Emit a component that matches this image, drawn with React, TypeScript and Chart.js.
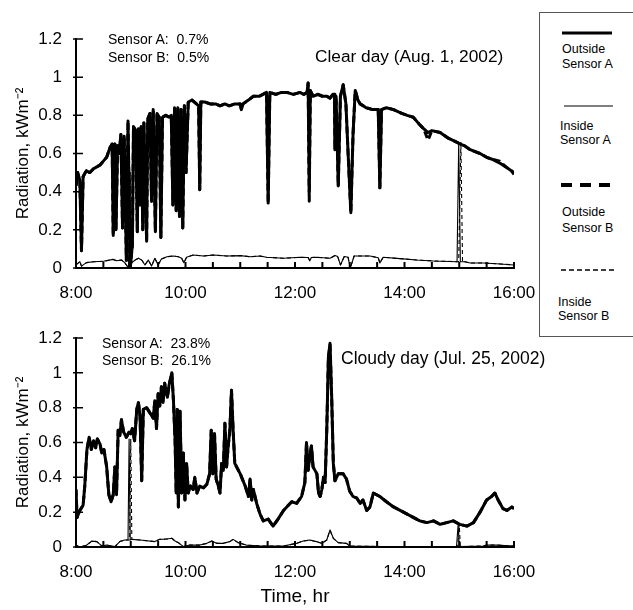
import React, { useEffect, useRef } from "react";
import { Chart, registerables } from "chart.js";
Chart.register(...registerables);

type Pair = [number, number];

// ---------- axis ticks / labels ----------
const xTickHours = [8, 10, 12, 14, 16];
const xTickLabels = ["8:00", "10:00", "12:00", "14:00", "16:00"];
const xMinorHours = [8, 8.5, 9, 9.5, 10, 10.5, 11, 11.5, 12, 12.5, 13, 13.5, 14, 14.5, 15, 15.5, 16];
const yTickValues = [0, 0.2, 0.4, 0.6, 0.8, 1, 1.2];
const yTickLabels = ["0", "0.2", "0.4", "0.6", "0.8", "1", "1.2"];
const seriesNames = ["Outside Sensor A", "Inside Sensor A", "Outside Sensor B", "Inside Sensor B"];

// ---------- Clear day (Aug. 1, 2002): [hour, kW m-2] ----------
const clearOutsideA: Pair[] = [
  [8.00,0.43],[8.03,0.50],[8.07,0.46],[8.10,0.09],[8.13,0.48],[8.19,0.51],[8.25,0.50],[8.32,0.52],[8.38,0.53],[8.44,0.54],
  [8.50,0.56],[8.56,0.58],[8.62,0.63],[8.66,0.65],[8.68,0.17],[8.71,0.65],[8.73,0.20],[8.76,0.64],[8.79,0.60],[8.82,0.70],
  [8.85,0.21],[8.88,0.69],[8.92,0.04],[8.95,0.77],[8.99,0.01],[9.03,0.12],[9.05,0.74],[9.09,0.72],[9.12,0.19],[9.14,0.73],
  [9.17,0.33],[9.19,0.74],[9.22,0.20],[9.24,0.76],[9.29,0.14],[9.31,0.78],[9.35,0.81],[9.38,0.35],[9.41,0.83],[9.45,0.19],
  [9.48,0.81],[9.52,0.79],[9.55,0.16],[9.58,0.79],[9.64,0.80],[9.70,0.79],[9.74,0.80],[9.77,0.33],[9.80,0.84],[9.83,0.30],
  [9.86,0.84],[9.89,0.27],[9.92,0.83],[9.95,0.21],[9.98,0.85],[10.01,0.50],[10.05,0.87],[10.12,0.88],[10.20,0.86],[10.24,0.85],
  [10.26,0.41],[10.28,0.87],[10.35,0.87],[10.45,0.86],[10.55,0.86],[10.63,0.85],[10.72,0.86],[10.80,0.85],[10.90,0.86],[11.00,0.86],
  [11.02,0.83],[11.05,0.86],[11.15,0.88],[11.24,0.90],[11.35,0.90],[11.48,0.92],[11.51,0.34],[11.54,0.92],[11.65,0.91],[11.75,0.92],
  [11.85,0.92],[11.97,0.91],[12.09,0.92],[12.16,0.91],[12.22,0.92],[12.24,0.97],[12.26,0.40],[12.28,0.93],[12.33,0.90],[12.42,0.91],
  [12.50,0.90],[12.58,0.90],[12.64,0.89],[12.69,0.91],[12.72,0.91],[12.73,0.62],[12.75,0.90],[12.79,0.43],[12.83,0.90],[12.88,0.96],
  [12.93,0.86],[12.97,0.60],[13.02,0.29],[13.06,0.70],[13.10,0.93],[13.15,0.88],[13.19,0.86],[13.30,0.84],[13.42,0.83],[13.52,0.83],
  [13.55,0.42],[13.58,0.83],[13.67,0.84],[13.80,0.83],[13.95,0.81],[14.05,0.80],[14.16,0.79],[14.28,0.75],[14.35,0.73],[14.43,0.71],
  [14.50,0.72],[14.65,0.71],[14.80,0.68],[14.95,0.66],[15.01,0.65],[15.10,0.64],[15.20,0.62],[15.38,0.60],[15.50,0.58],[15.60,0.57],
  [15.74,0.55],[15.85,0.53],[15.95,0.51],[16.00,0.49],
];
const clearOutsideB: Pair[] = [
  [8.00,0.43],[8.03,0.50],[8.07,0.46],[8.10,0.09],[8.13,0.48],[8.19,0.51],[8.25,0.50],[8.32,0.52],[8.38,0.53],[8.44,0.54],
  [8.50,0.56],[8.56,0.58],[8.62,0.63],[8.66,0.65],[8.68,0.17],[8.71,0.65],[8.73,0.20],[8.76,0.64],[8.79,0.60],[8.82,0.70],
  [8.85,0.21],[8.88,0.69],[8.92,0.04],[8.95,0.77],[8.99,0.00],[9.03,0.12],[9.05,0.74],[9.09,0.72],[9.12,0.19],[9.14,0.73],
  [9.17,0.33],[9.19,0.74],[9.22,0.20],[9.24,0.76],[9.29,0.14],[9.31,0.78],[9.35,0.81],[9.38,0.35],[9.41,0.83],[9.45,0.19],
  [9.48,0.81],[9.52,0.79],[9.55,0.16],[9.58,0.79],[9.64,0.80],[9.70,0.79],[9.74,0.80],[9.77,0.33],[9.80,0.84],[9.83,0.30],
  [9.86,0.84],[9.89,0.27],[9.92,0.83],[9.95,0.21],[9.98,0.85],[10.01,0.50],[10.05,0.87],[10.12,0.88],[10.20,0.86],[10.24,0.85],
  [10.26,0.41],[10.28,0.87],[10.35,0.87],[10.45,0.86],[10.55,0.86],[10.63,0.85],[10.72,0.86],[10.80,0.85],[10.90,0.86],[11.00,0.86],
  [11.02,0.83],[11.05,0.86],[11.15,0.88],[11.24,0.90],[11.35,0.90],[11.48,0.92],[11.51,0.34],[11.54,0.92],[11.65,0.91],[11.75,0.92],
  [11.85,0.92],[11.97,0.91],[12.09,0.92],[12.16,0.91],[12.22,0.92],[12.24,0.97],[12.26,0.35],[12.28,0.93],[12.33,0.90],[12.42,0.91],
  [12.50,0.90],[12.58,0.90],[12.64,0.89],[12.69,0.91],[12.72,0.91],[12.73,0.62],[12.75,0.90],[12.79,0.43],[12.83,0.90],[12.88,0.96],
  [12.93,0.86],[12.97,0.60],[13.02,0.29],[13.06,0.70],[13.10,0.93],[13.15,0.88],[13.19,0.86],[13.30,0.84],[13.42,0.83],[13.52,0.83],
  [13.55,0.42],[13.58,0.83],[13.67,0.84],[13.80,0.83],[13.95,0.81],[14.05,0.80],[14.16,0.79],[14.28,0.75],[14.35,0.73],[14.43,0.67],
  [14.50,0.72],[14.65,0.71],[14.80,0.68],[14.95,0.66],[15.01,0.65],[15.10,0.64],[15.20,0.62],[15.38,0.60],[15.50,0.58],[15.60,0.57],
  [15.74,0.56],[15.85,0.53],[15.95,0.51],[16.00,0.50],
];
const clearInsideA: Pair[] = [
  [8.00,0.016],[8.07,0.033],[8.10,0.010],[8.19,0.028],[8.32,0.033],[8.50,0.035],[8.68,0.045],[8.74,0.038],[8.83,0.042],[8.89,0.028],
  [8.96,0.0],[8.98,0.45],[9.00,0.0],[9.02,0.028],[9.08,0.042],[9.14,0.051],[9.20,0.042],[9.26,0.016],[9.32,0.042],[9.38,0.010],
  [9.44,0.051],[9.50,0.016],[9.56,0.047],[9.66,0.059],[9.78,0.063],[9.87,0.059],[9.93,0.051],[9.97,0.028],[10.02,0.056],[10.14,0.068],
  [10.33,0.063],[10.51,0.068],[10.75,0.063],[11.00,0.065],[11.18,0.059],[11.36,0.063],[11.48,0.056],[11.79,0.051],[12.09,0.056],[12.24,0.055],
  [12.27,0.038],[12.30,0.055],[12.39,0.056],[12.64,0.051],[12.73,0.065],[12.78,0.060],[12.83,0.016],[12.90,0.060],[12.97,0.056],[13.01,0.0],
  [13.08,0.063],[13.37,0.063],[13.52,0.054],[13.55,0.026],[13.61,0.056],[13.92,0.049],[14.22,0.042],[14.53,0.037],[14.96,0.033],[14.99,0.66],
  [15.02,0.033],[15.10,0.033],[15.20,0.026],[15.44,0.026],[15.75,0.021],[16.00,0.016],
];
const clearInsideB: Pair[] = [
  [8.00,0.016],[8.07,0.033],[8.10,0.010],[8.19,0.028],[8.32,0.033],[8.50,0.035],[8.68,0.045],[8.74,0.038],[8.83,0.042],[8.89,0.028],
  [8.96,0.0],[9.00,0.50],[9.02,0.028],[9.08,0.042],[9.14,0.051],[9.20,0.042],[9.26,0.016],[9.32,0.042],[9.38,0.010],
  [9.44,0.051],[9.50,0.016],[9.56,0.047],[9.66,0.059],[9.78,0.063],[9.87,0.059],[9.93,0.051],[9.97,0.028],[10.02,0.056],[10.14,0.068],
  [10.33,0.063],[10.51,0.068],[10.75,0.063],[11.00,0.065],[11.18,0.059],[11.36,0.063],[11.48,0.056],[11.79,0.051],[12.09,0.056],[12.24,0.055],
  [12.27,0.038],[12.30,0.055],[12.39,0.056],[12.64,0.051],[12.73,0.065],[12.78,0.060],[12.83,0.016],[12.90,0.060],[12.97,0.056],[13.01,0.0],
  [13.08,0.063],[13.37,0.063],[13.52,0.054],[13.55,0.026],[13.61,0.056],[13.92,0.049],[14.22,0.042],[14.53,0.037],[14.99,0.033],[15.03,0.66],
  [15.06,0.030],[15.10,0.033],[15.20,0.026],[15.44,0.026],[15.75,0.021],[16.00,0.016],
];

// ---------- Cloudy day (Jul. 25, 2002): [hour, kW m-2] ----------
const cloudyOutsideA: Pair[] = [
  [8.00,0.33],[8.02,0.17],[8.07,0.21],[8.13,0.24],[8.16,0.35],[8.20,0.56],[8.24,0.63],[8.28,0.56],[8.32,0.61],[8.36,0.57],
  [8.39,0.62],[8.44,0.59],[8.47,0.54],[8.51,0.56],[8.56,0.46],[8.60,0.30],[8.64,0.26],[8.68,0.30],[8.71,0.46],[8.74,0.30],
  [8.77,0.67],[8.80,0.64],[8.83,0.73],[8.87,0.66],[8.92,0.63],[8.97,0.66],[9.00,0.65],[9.03,0.68],[9.07,0.61],[9.11,0.79],
  [9.14,0.83],[9.17,0.75],[9.20,0.38],[9.23,0.79],[9.29,0.80],[9.35,0.77],[9.41,0.74],[9.44,0.84],[9.47,0.68],[9.50,0.88],
  [9.53,0.81],[9.56,0.92],[9.59,0.83],[9.62,0.94],[9.67,0.86],[9.70,0.93],[9.75,1.00],[9.78,0.84],[9.81,0.61],[9.83,0.31],
  [9.85,0.79],[9.87,0.23],[9.90,0.78],[9.93,0.31],[9.96,0.54],[9.99,0.27],[10.02,0.48],[10.05,0.31],[10.09,0.35],[10.14,0.33],
  [10.17,0.40],[10.21,0.31],[10.26,0.35],[10.33,0.34],[10.39,0.36],[10.44,0.42],[10.47,0.67],[10.50,0.42],[10.53,0.65],[10.56,0.39],
  [10.60,0.35],[10.63,0.31],[10.66,0.48],[10.69,0.44],[10.72,0.71],[10.75,0.46],[10.78,0.58],[10.81,0.67],[10.84,0.90],[10.87,0.67],
  [10.90,0.48],[11.00,0.42],[11.09,0.35],[11.15,0.29],[11.18,0.39],[11.21,0.27],[11.24,0.33],[11.30,0.25],[11.36,0.19],[11.42,0.15],
  [11.51,0.16],[11.60,0.12],[11.69,0.16],[11.79,0.21],[11.85,0.23],[11.94,0.26],[12.03,0.25],[12.12,0.29],[12.18,0.37],[12.21,0.60],
  [12.24,0.44],[12.27,0.52],[12.30,0.58],[12.33,0.46],[12.40,0.42],[12.43,0.31],[12.46,0.29],[12.49,0.33],[12.52,0.40],[12.55,0.37],
  [12.58,0.67],[12.61,1.09],[12.64,1.17],[12.67,0.86],[12.70,0.48],[12.73,0.38],[12.79,0.42],[12.88,0.42],[12.94,0.39],[13.00,0.32],
  [13.06,0.29],[13.13,0.28],[13.19,0.25],[13.24,0.27],[13.31,0.21],[13.37,0.23],[13.43,0.31],[13.55,0.29],[13.67,0.26],[13.80,0.23],
  [13.92,0.21],[14.04,0.19],[14.16,0.17],[14.28,0.15],[14.41,0.14],[14.53,0.15],[14.65,0.13],[14.77,0.14],[14.89,0.15],[15.01,0.13],
  [15.14,0.12],[15.26,0.14],[15.38,0.20],[15.50,0.27],[15.59,0.29],[15.65,0.31],[15.71,0.27],[15.80,0.22],[15.87,0.21],[15.96,0.23],
  [16.00,0.22],
];
const cloudyOutsideB: Pair[] = [
  [8.00,0.33],[8.02,0.17],[8.07,0.21],[8.13,0.24],[8.16,0.35],[8.20,0.56],[8.24,0.63],[8.28,0.56],[8.32,0.61],[8.36,0.57],
  [8.39,0.62],[8.44,0.59],[8.47,0.54],[8.51,0.56],[8.56,0.46],[8.60,0.30],[8.64,0.26],[8.68,0.30],[8.71,0.46],[8.74,0.30],
  [8.77,0.67],[8.80,0.64],[8.83,0.73],[8.87,0.66],[8.92,0.63],[8.97,0.66],[9.00,0.65],[9.03,0.68],[9.07,0.61],[9.11,0.79],
  [9.14,0.83],[9.17,0.75],[9.20,0.38],[9.23,0.79],[9.29,0.80],[9.35,0.77],[9.41,0.74],[9.44,0.84],[9.47,0.68],[9.50,0.88],
  [9.53,0.81],[9.56,0.92],[9.59,0.83],[9.62,0.94],[9.67,0.86],[9.70,0.93],[9.75,1.00],[9.78,0.84],[9.81,0.61],[9.83,0.31],
  [9.85,0.79],[9.87,0.23],[9.90,0.78],[9.93,0.31],[9.96,0.54],[9.99,0.27],[10.02,0.48],[10.05,0.31],[10.09,0.35],[10.14,0.33],
  [10.17,0.40],[10.21,0.31],[10.26,0.35],[10.33,0.34],[10.39,0.36],[10.44,0.42],[10.47,0.67],[10.50,0.42],[10.53,0.65],[10.56,0.39],
  [10.60,0.35],[10.63,0.31],[10.66,0.48],[10.69,0.44],[10.72,0.71],[10.75,0.46],[10.78,0.58],[10.81,0.67],[10.84,0.90],[10.87,0.67],
  [10.90,0.48],[11.00,0.42],[11.09,0.35],[11.15,0.29],[11.18,0.39],[11.21,0.27],[11.24,0.33],[11.30,0.25],[11.36,0.19],[11.42,0.15],
  [11.51,0.16],[11.60,0.12],[11.69,0.16],[11.79,0.21],[11.85,0.23],[11.94,0.26],[12.03,0.25],[12.12,0.29],[12.18,0.37],[12.21,0.60],
  [12.24,0.44],[12.27,0.52],[12.30,0.58],[12.33,0.46],[12.40,0.42],[12.43,0.31],[12.46,0.29],[12.49,0.33],[12.52,0.40],[12.55,0.37],
  [12.58,0.67],[12.61,1.09],[12.64,1.16],[12.67,0.86],[12.70,0.48],[12.73,0.38],[12.79,0.42],[12.88,0.42],[12.94,0.39],[13.00,0.32],
  [13.06,0.29],[13.13,0.28],[13.19,0.25],[13.24,0.27],[13.31,0.21],[13.37,0.23],[13.43,0.31],[13.55,0.29],[13.67,0.26],[13.80,0.23],
  [13.92,0.21],[14.04,0.19],[14.16,0.17],[14.28,0.15],[14.41,0.14],[14.53,0.15],[14.65,0.13],[14.77,0.14],[14.89,0.15],[15.01,0.13],
  [15.14,0.12],[15.26,0.14],[15.38,0.20],[15.50,0.27],[15.59,0.29],[15.65,0.31],[15.71,0.27],[15.80,0.22],[15.87,0.21],[15.96,0.23],
  [16.00,0.22],
];
const cloudyInsideA: Pair[] = [
  [8.00,0.010],[8.07,0.0],[8.19,0.010],[8.29,0.034],[8.38,0.031],[8.47,0.006],[8.56,0.011],[8.71,0.002],[8.80,0.031],[8.89,0.040],
  [8.95,0.040],[8.97,0.62],[8.99,0.040],[9.02,0.044],[9.17,0.040],[9.29,0.036],[9.44,0.031],[9.53,0.044],[9.66,0.046],[9.75,0.050],
  [9.81,0.034],[9.87,0.025],[9.96,0.002],[10.08,0.011],[10.26,0.011],[10.39,0.021],[10.48,0.034],[10.57,0.021],[10.69,0.021],[10.81,0.031],
  [10.87,0.044],[10.96,0.025],[11.11,0.011],[11.36,0.006],[11.79,0.006],[12.03,0.021],[12.15,0.034],[12.27,0.040],[12.39,0.031],[12.49,0.021],
  [12.58,0.040],[12.64,0.098],[12.70,0.050],[12.79,0.025],[12.94,0.021],[13.00,0.006],[13.61,0.002],[14.95,0.002],[14.98,0.13],[15.00,0.002],
  [15.44,0.006],[15.50,0.011],[15.68,0.011],[16.00,0.006],
];
const cloudyInsideB: Pair[] = [
  [8.00,0.010],[8.07,0.0],[8.19,0.010],[8.29,0.034],[8.38,0.031],[8.47,0.006],[8.56,0.011],[8.71,0.002],[8.80,0.031],[8.89,0.040],
  [8.98,0.040],[9.00,0.62],[9.02,0.044],[9.17,0.040],[9.29,0.036],[9.44,0.031],[9.53,0.044],[9.66,0.046],[9.75,0.050],
  [9.81,0.034],[9.87,0.025],[9.96,0.002],[10.08,0.011],[10.26,0.011],[10.39,0.021],[10.48,0.034],[10.57,0.021],[10.69,0.021],[10.81,0.031],
  [10.87,0.044],[10.96,0.025],[11.11,0.011],[11.36,0.006],[11.79,0.006],[12.03,0.021],[12.15,0.034],[12.27,0.040],[12.39,0.031],[12.49,0.021],
  [12.58,0.040],[12.64,0.095],[12.70,0.050],[12.79,0.025],[12.94,0.021],[13.00,0.006],[13.61,0.002],[14.97,0.002],[15.00,0.13],[15.02,0.002],
  [15.44,0.006],[15.50,0.011],[15.68,0.011],[16.00,0.006],
];

const FONT = "'Liberation Sans', Arial, Helvetica, sans-serif";

const axisTickPlugin = {
  id: "axisTicks",
  afterDraw(chart: any) {
    const { ctx, chartArea, scales } = chart;
    ctx.save();
    ctx.strokeStyle = "#000";
    ctx.lineWidth = 2;
    ctx.beginPath();
    for (const h of xMinorHours) {
      const px = scales.x.getPixelForValue(h);
      ctx.moveTo(px, chartArea.bottom);
      ctx.lineTo(px, chartArea.bottom - 6);
    }
    ctx.stroke();
    ctx.lineWidth = 1.5;
    ctx.beginPath();
    for (const v of yTickValues) {
      const py = scales.y.getPixelForValue(v);
      ctx.moveTo(chartArea.left - 3, py);
      ctx.lineTo(chartArea.left + 7, py);
    }
    ctx.stroke();
    ctx.restore();
  },
};

function makeConfig(series: Pair[][], padTop: number, xAxisHeight: number, withTitle: boolean): any {
  const styles = [
    { w: 3, dash: [] as number[] },
    { w: 1.1, dash: [] as number[] },
    { w: 3, dash: [7, 4] },
    { w: 1.1, dash: [4, 3] },
  ];
  return {
    type: "scatter",
    data: {
      datasets: series.map((s, i) => ({
        label: seriesNames[i],
        data: s.map(([x, y]) => ({ x, y })),
        showLine: true,
        pointRadius: 0,
        borderColor: "#000",
        backgroundColor: "#000",
        borderWidth: styles[i].w,
        borderDash: styles[i].dash,
        borderJoinStyle: "round",
        borderCapStyle: "butt",
        tension: 0,
        fill: false,
      })),
    },
    options: {
      animation: false,
      responsive: false,
      events: [],
      layout: { padding: { left: 0, right: 46, top: padTop, bottom: 0 } },
      plugins: { legend: { display: false }, tooltip: { enabled: false } },
      scales: {
        x: {
          type: "linear",
          min: 8,
          max: 16,
          afterBuildTicks: (s: any) => { s.ticks = xTickHours.map((v) => ({ value: v })); },
          afterFit: (s: any) => { s.height = xAxisHeight; },
          ticks: {
            autoSkip: false,
            maxRotation: 0,
            padding: 15,
            color: "#000",
            font: { family: FONT, size: 17 },
            callback: (_v: any, i: number) => xTickLabels[i],
          },
          grid: { display: false, drawTicks: false },
          border: { display: true, width: 2, color: "#000" },
          title: {
            display: withTitle,
            text: "Time, hr",
            color: "#000",
            font: { family: FONT, size: 19 },
            padding: { top: 0, bottom: 2 },
          },
        },
        y: {
          type: "linear",
          min: 0,
          max: 1.2,
          afterBuildTicks: (s: any) => { s.ticks = yTickValues.map((v) => ({ value: v })); },
          afterFit: (s: any) => { s.width = 76; },
          ticks: {
            padding: 14,
            color: "#000",
            font: { family: FONT, size: 17 },
            callback: (_v: any, i: number) => yTickLabels[i],
          },
          grid: { display: false, drawTicks: false },
          border: { display: true, width: 2, color: "#000" },
          title: {
            display: true,
            text: "Radiation, kWm\u207B\u00B2",
            color: "#000",
            font: { family: FONT, size: 17 },
            padding: { top: 13, bottom: 0 },
          },
        },
      },
    },
    plugins: [axisTickPlugin],
  };
}

function Panel(props: { top: number; height: number; padTop: number; axisHeight: number; series: Pair[][]; withTitle: boolean }) {
  const ref = useRef<HTMLCanvasElement | null>(null);
  useEffect(() => {
    if (!ref.current) return;
    const chart = new Chart(ref.current, makeConfig(props.series, props.padTop, props.axisHeight, props.withTitle));
    return () => chart.destroy();
  }, []);
  return (
    <canvas
      ref={ref}
      width={560}
      height={props.height}
      style={{ position: "absolute", left: 0, top: props.top, width: 560, height: props.height }}
    />
  );
}

function Txt(props: { x: number; cy: number; size: number; children: any }) {
  return (
    <div
      style={{
        position: "absolute",
        left: props.x,
        top: props.cy,
        transform: "translateY(-50%)",
        fontFamily: FONT,
        fontSize: props.size,
        lineHeight: 1.15,
        whiteSpace: "nowrap",
        color: "#000",
      }}
    >
      {props.children}
    </div>
  );
}

export default function App() {
  return (
    <div style={{ position: "absolute", left: 0, top: 0, width: 633, height: 610, background: "#fff", overflow: "hidden" }}>
      <Panel top={0} height={305} padTop={39} axisHeight={37} withTitle={false}
        series={[clearOutsideA, clearInsideA, clearOutsideB, clearInsideB]} />
      <Panel top={300} height={310} padTop={38} axisHeight={63} withTitle={true}
        series={[cloudyOutsideA, cloudyInsideA, cloudyOutsideB, cloudyInsideB]} />

      <Txt x={108} cy={39} size={14}>Sensor A:&nbsp; 0.7%</Txt>
      <Txt x={108} cy={57} size={14}>Sensor B:&nbsp; 0.5%</Txt>
      <Txt x={315} cy={57} size={17.3}>Clear day (Aug. 1, 2002)</Txt>

      <Txt x={102} cy={343} size={14}>Sensor A:&nbsp; 23.8%</Txt>
      <Txt x={102} cy={360} size={14}>Sensor B:&nbsp; 26.1%</Txt>
      <Txt x={341} cy={358} size={17.5}>Cloudy day (Jul. 25, 2002)</Txt>

      <div style={{ position: "absolute", left: 539, top: 12, width: 110, height: 325, border: "1px solid #555", background: "#fff", boxSizing: "border-box" }} />
      <svg width={100} height={330} style={{ position: "absolute", left: 539, top: 0 }}>
        <line x1={23} x2={73} y1={33} y2={33} stroke="#000" strokeWidth={3} />
        <line x1={25} x2={74} y1={106} y2={106} stroke="#000" strokeWidth={1.2} />
        <line x1={22} x2={78} y1={185} y2={185} stroke="#000" strokeWidth={4} strokeDasharray="11 8" />
        <line x1={22} x2={78} y1={270} y2={270} stroke="#000" strokeWidth={1.5} strokeDasharray="5 3" />
      </svg>
      <Txt x={562} cy={49} size={12.5}>Outside</Txt>
      <Txt x={562} cy={64} size={12.5}>Sensor A</Txt>
      <Txt x={560} cy={126} size={12.5}>Inside</Txt>
      <Txt x={560} cy={140} size={12.5}>Sensor A</Txt>
      <Txt x={562} cy={212} size={12.5}>Outside</Txt>
      <Txt x={562} cy={228} size={12.5}>Sensor B</Txt>
      <Txt x={558} cy={302} size={12.5}>Inside</Txt>
      <Txt x={558} cy={316} size={12.5}>Sensor B</Txt>
    </div>
  );
}
